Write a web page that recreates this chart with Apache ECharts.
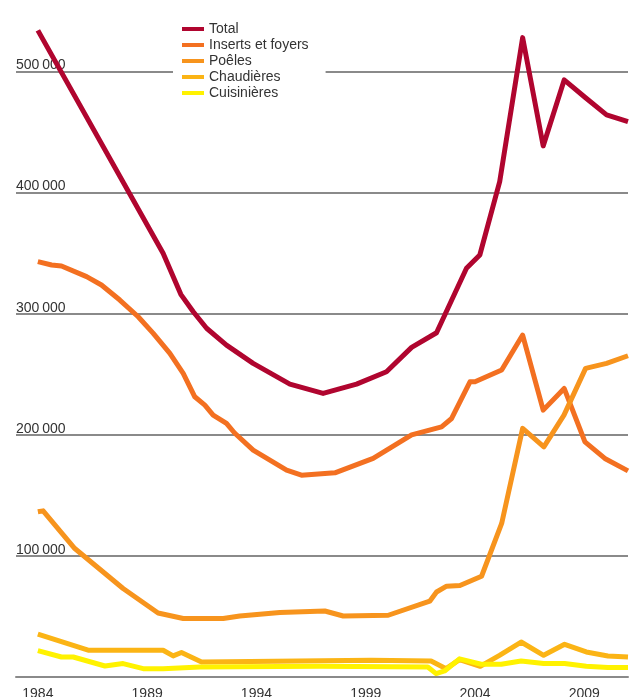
<!DOCTYPE html>
<html>
<head>
<meta charset="utf-8">
<script src="https://cdn.jsdelivr.net/npm/echarts@6/dist/echarts.min.js"></script>
<style>
html,body{margin:0;padding:0;background:#fff;}
#chart{width:638px;height:697px;}
</style>
</head>
<body>
<div id="chart"></div>
<script>
// ---- data (years may be fractional) ----
const seriesNames = ['Total', 'Inserts et foyers', 'Poêles', 'Chaudières', 'Cuisinières'];
const xTickLabels = [1984, 1989, 1994, 1999, 2004, 2009];
const yTickValues = [100000, 200000, 300000, 400000, 500000];

const totalYears = [1984, 1989.73, 1990.54, 1991.11, 1991.72, 1992.63, 1993.85, 1995.53, 1997.05, 1998.58, 1999.95, 2001.1, 2002.24, 2003.61, 2004.22, 2005.13, 2006.18, 2007.12, 2008.08, 2009.03, 2010.02, 2011];
const totalValues = [534000, 350000, 316000, 301600, 288000, 274100, 259000, 241900, 234200, 241900, 252100, 272200, 284300, 337500, 348500, 409100, 528000, 438600, 493100, 478800, 464200, 458700];

const insertsYears = [1984, 1984.63, 1985.08, 1986.23, 1986.91, 1987.75, 1988.59, 1989.28, 1990.04, 1990.65, 1991.18, 1991.64, 1992.02, 1992.63, 1993.0, 1993.85, 1995.38, 1996.06, 1997.59, 1999.34, 2001.1, 2002.47, 2002.93, 2003.77, 2004.0, 2005.22, 2006.18, 2007.12, 2008.08, 2009.03, 2009.94, 2011];
const insertsValues = [343000, 340200, 339400, 330600, 323700, 311300, 297500, 283800, 267300, 250700, 231400, 224500, 216300, 209400, 201500, 187400, 170800, 166700, 168600, 180500, 200000, 206600, 213500, 243800, 243800, 253500, 282400, 220400, 238300, 194200, 180500, 170200];

const poelesYears = [1984, 1984.24, 1985.69, 1987.9, 1989.5, 1990.65, 1992.48, 1993.24, 1995.07, 1997.13, 1997.97, 2000.03, 2001.93, 2002.24, 2002.7, 2003.31, 2004.3, 2005.22, 2006.18, 2007.15, 2008.07, 2009.06, 2010.02, 2011];
const poelesValues = [136400, 137200, 106100, 73100, 52900, 48300, 48300, 50400, 53200, 54500, 50400, 51000, 62600, 70200, 75000, 75500, 83200, 126800, 205300, 190100, 216300, 254900, 259000, 265300];

const chaudYears = [1984, 1986.3, 1989.73, 1990.19, 1990.57, 1991.49, 1999.25, 2001.99, 2002.68, 2003.29, 2004.24, 2005.12, 2006.11, 2007.14, 2008.1, 2009.09, 2010.08, 2011];
const chaudValues = [35500, 22100, 22100, 17400, 20200, 12400, 13800, 13200, 6900, 14400, 8800, 17900, 28900, 17900, 27000, 20700, 17400, 16500];

const cuisYears = [1984, 1985.08, 1985.62, 1987.07, 1987.9, 1988.82, 1989.73, 1991.41, 1996.9, 2001.84, 2002.22, 2002.61, 2003.29, 2004.28, 2005.2, 2006.11, 2007.14, 2008.1, 2009.09, 2010.08, 2011];
const cuisValues = [21800, 16500, 16500, 9100, 11100, 6900, 6900, 8300, 8800, 8300, 2800, 5000, 15000, 10500, 10500, 13200, 11100, 11100, 8800, 7800, 7800];

const colors = ['#b0052f', '#f37021', '#f7941d', '#fbb415', '#fff200'];

function pairs(xs, ys) { return xs.map((x, i) => [x, ys[i]]); }
const allData = [
  pairs(totalYears, totalValues),
  pairs(insertsYears, insertsValues),
  pairs(poelesYears, poelesValues),
  pairs(chaudYears, chaudValues),
  pairs(cuisYears, cuisValues)
];

const font = 'Liberation Sans, Arial, sans-serif';
const chart = echarts.init(document.getElementById('chart'), null, {renderer: 'canvas'});
chart.setOption({
  animation: false,
  backgroundColor: '#fff',
  color: colors,
  grid: {left: 16, right: 10, top: 11, bottom: 20, containLabel: false, outerBoundsMode: 'none'},
  legend: {
    orient: 'vertical',
    left: 173,
    top: 17,
    icon: 'rect',
    itemWidth: 22,
    itemHeight: 4,
    itemGap: 0,
    backgroundColor: '#fff',
    padding: [4, 17, 4, 9],
    textStyle: {fontSize: 14, color: '#333', fontFamily: font, lineHeight: 16},
    data: seriesNames
  },
  xAxis: {
    type: 'value',
    min: 1983,
    max: 2011,
    axisLine: {show: true, lineStyle: {color: '#8a8a8a', width: 2}},
    axisTick: {show: false},
    splitLine: {show: false},
    axisLabel: {
      customValues: xTickLabels,
      fontSize: 14,
      color: '#333',
      fontFamily: font,
      margin: 10,
      formatter: v => String(v)
    }
  },
  yAxis: {
    type: 'value',
    min: 0,
    max: 550000,
    interval: 100000,
    axisLine: {show: false},
    axisTick: {show: false},
    splitLine: {show: true, showMaxLine: false, lineStyle: {color: '#8a8a8a', width: 2}},
    axisLabel: {
      inside: true,
      showMaxLabel: false,
      align: 'left',
      verticalAlign: 'bottom',
      margin: 0,
      fontSize: 14,
      color: '#333',
      fontFamily: font,
      padding: [0, 0, -1, 0],
      formatter: v => (yTickValues.indexOf(v) >= 0 ? (v / 1000) + '\u2009000' : '')
    }
  },
  series: seriesNames.map((name, i) => ({
    name: name,
    type: 'line',
    data: allData[i],
    symbol: 'none',
    lineStyle: {width: 5, color: colors[i], join: 'round'},
    itemStyle: {color: colors[i]},
    z: 2 + i
  }))
});
</script>
</body>
</html>
